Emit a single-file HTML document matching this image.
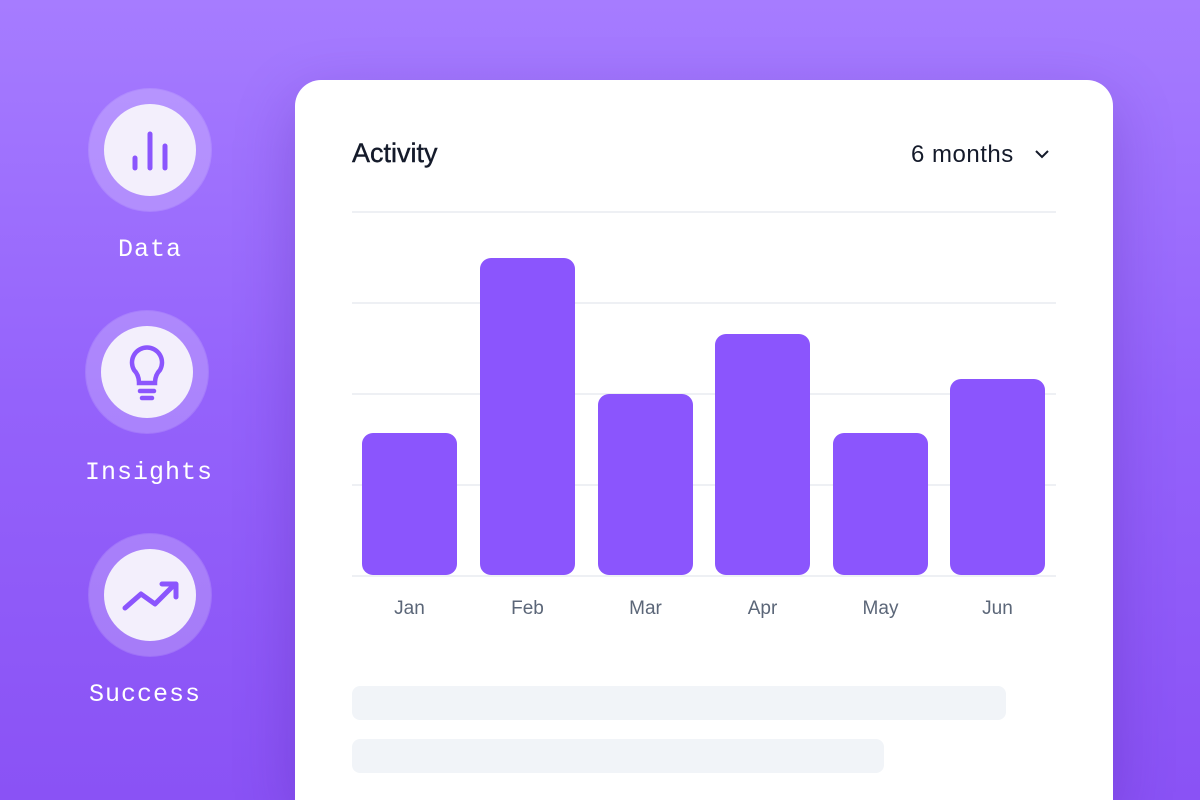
<!DOCTYPE html>
<html style="margin:0;width:1200px;height:800px;overflow:hidden"><head><style>
body{margin:0;width:1200px;height:800px;overflow:hidden;font-family:"Liberation Sans",sans-serif;
background:linear-gradient(180deg,#a67cff 0%,#9462fb 50%,#8a52f5 100%);position:relative}
.c{position:absolute;border-radius:50%;width:122px;height:122px;background:rgba(255,255,255,0.22);box-shadow:0 0 0 1px rgba(255,255,255,0.15)}
.c .i{position:absolute;left:15px;top:15px;width:92px;height:92px;border-radius:50%;background:#f3effc}
.c svg{position:absolute;left:0;top:0}
.lab{position:absolute;color:#fff;font-family:"Liberation Mono",monospace;font-size:25px;text-align:center;width:200px;letter-spacing:1px}
.card{position:absolute;left:295px;top:80px;width:818px;height:720px;background:#fff;border-radius:26px 26px 0 0;box-shadow:0 20px 60px rgba(60,20,140,0.25)}
.g{position:absolute;left:57px;width:704px;height:2px;background:#eef0f4}
.b{position:absolute;background:#8b55fd;border-radius:11px;width:95px}
.m{position:absolute;top:518px;width:95px;text-align:center;color:#5b6678;font-size:19px}
</style></head><body>
<div class="c" style="left:89px;top:89px"><div class="i"></div>
<svg width="122" height="122"><g stroke="#8b55fd" stroke-width="5" stroke-linecap="round"><line x1="46" y1="69" x2="46" y2="79"/><line x1="61" y1="45" x2="61" y2="79"/><line x1="76" y1="57" x2="76" y2="79"/></g></svg></div>
<div class="lab" style="left:50px;top:235px">Data</div>
<div class="c" style="left:86px;top:311px"><div class="i"></div>
<svg width="122" height="122"><g stroke="#8b55fd" stroke-width="4.5" fill="none" stroke-linecap="round"><path d="M53 72 Q53 64 48 59 A15 15 0 1 1 74 59 Q69 64 69 72 Z"/><line x1="54" y1="80" x2="68" y2="80"/><line x1="56" y1="87" x2="66" y2="87"/></g></svg></div>
<div class="lab" style="left:49px;top:458px">Insights</div>
<div class="c" style="left:89px;top:534px"><div class="i"></div>
<svg width="122" height="122"><g stroke="#8b55fd" stroke-width="5" fill="none" stroke-linecap="round" stroke-linejoin="round"><polyline points="36,74 52,60 66,70 86,50"/><polyline points="73,50 87,50 87,63"/></g></svg></div>
<div class="lab" style="left:45px;top:680px">Success</div>
<div class="card">
<div style="position:absolute;left:57px;top:58px;font-size:27px;color:#141a2a;-webkit-text-stroke:0.4px #141a2a">Activity</div>
<div style="position:absolute;left:616px;top:61px;font-size:24px;letter-spacing:0.5px;color:#141a2a">6 months</div>
<svg style="position:absolute;left:738px;top:67px" width="18" height="14"><polyline points="3,4 9,10 15,4" stroke="#141a2a" stroke-width="2" fill="none"/></svg>
<div class="g" style="top:131px"></div><div class="g" style="top:222px"></div><div class="g" style="top:313px"></div><div class="g" style="top:404px"></div><div class="g" style="top:495px"></div>
<div class="b" style="left:67px;top:353px;height:142px"></div>
<div class="b" style="left:185px;top:178px;height:317px"></div>
<div class="b" style="left:303px;top:314px;height:181px"></div>
<div class="b" style="left:420px;top:254px;height:241px"></div>
<div class="b" style="left:538px;top:353px;height:142px"></div>
<div class="b" style="left:655px;top:299px;height:196px"></div>
<div class="m" style="left:67px">Jan</div><div class="m" style="left:185px">Feb</div><div class="m" style="left:303px">Mar</div><div class="m" style="left:420px">Apr</div><div class="m" style="left:538px">May</div><div class="m" style="left:655px">Jun</div>
<div style="position:absolute;left:57px;top:606px;width:654px;height:34px;border-radius:8px;background:#f1f4f8"></div>
<div style="position:absolute;left:57px;top:659px;width:532px;height:34px;border-radius:8px;background:#f1f4f8"></div>
</div>
</body></html>
